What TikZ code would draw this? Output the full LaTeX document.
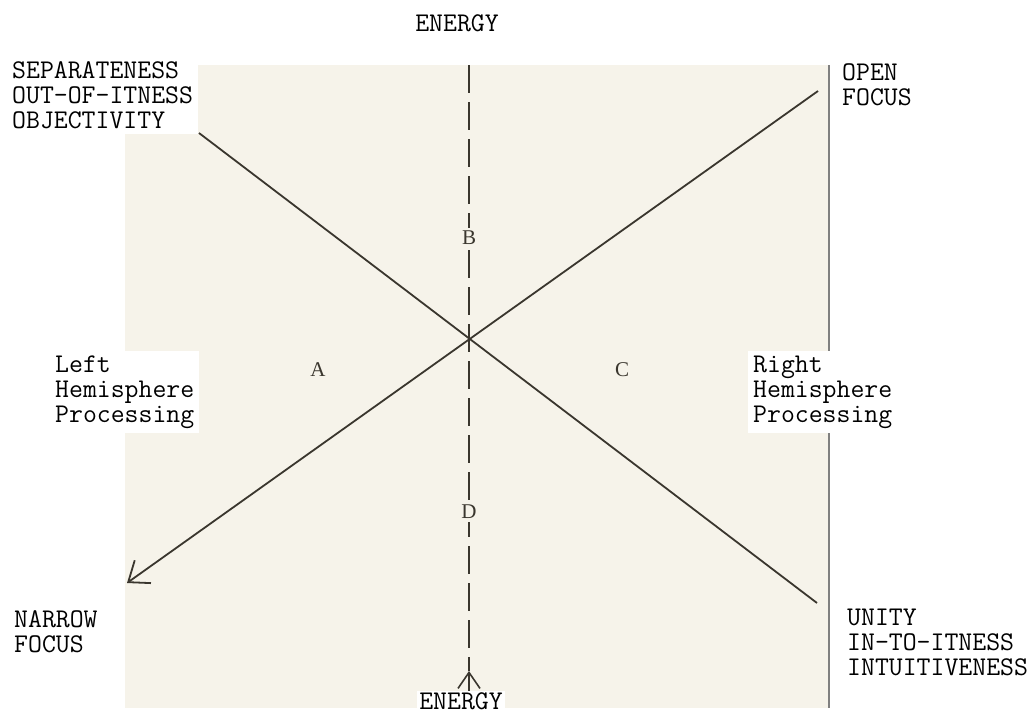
\documentclass[tikz,border=0pt]{standalone}
\usepackage{fontspec}
\setmainfont{Liberation Serif}
\usetikzlibrary{arrows.meta}
\definecolor{scan}{RGB}{246,243,234}
\definecolor{ink}{RGB}{58,54,46}

\begin{document}
\begin{tikzpicture}[x=1pt, y=-1pt,
  every node/.style={font=\ttfamily\fontsize{27}{25}\selectfont, inner sep=2pt},
  labelbox/.style={align=left, fill=white, anchor=west, inner sep=5pt},
  quadrant/.style={font=\rmfamily\fontsize{21}{22}\selectfont, text=ink, inner sep=3pt},
  axis/.style={ink, line width=1.8pt}]
\useasboundingbox (0,0) rectangle (1031,715);
\fill[white] (0,0) rectangle (1031,715);

% scanned page behind the cross
\fill[scan] (125,65) rectangle (829,708);
\draw[gray, line width=1.5pt] (829,65) -- (829,708);

\coordinate (ctr) at (469,340);
\coordinate (tl) at (199,133);
\coordinate (br) at (817,603);
\coordinate (tr) at (818,91);
\coordinate (bl) at (127,583);
\coordinate (top) at (469,65);
\coordinate (tip) at (469,671);
\coordinate (foot) at (469,692);

\draw[axis] (tl) -- (br);
\draw[axis, -{Straight Barb[length=18pt,width=28pt]}] (tr) -- (bl);
\draw[axis, line width=1.6pt, dash pattern=on 28pt off 9pt] (top) -- (tip);
\draw[axis, line width=1.6pt, -{Straight Barb[length=16pt,width=22pt]}] (foot) -- (tip);

\node[quadrant] (qA) at (318,370) {A};
\node[quadrant, fill=scan] (qB) at (469,238) {B};
\node[quadrant] (qC) at (622,370) {C};
\node[quadrant, fill=scan] (qD) at (469,512) {D};

\node (etop) at (457,23) {ENERGY};
\node[fill=white, inner ysep=1pt] (ebot) at (461,701) {ENERGY};

\node[labelbox] (sep) at (7,95) {SEPARATENESS\\OUT-OF-ITNESS\\OBJECTIVITY};
\node[anchor=west, align=left] (open) at (840,85) {OPEN\\FOCUS};
\node[labelbox] (lhp) at (50,392) {Left\\Hemisphere\\Processing};
\node[labelbox] (rhp) at (748,392) {Right\\Hemisphere\\Processing};
\node[anchor=west, align=left] (narrow) at (12,632) {NARROW\\FOCUS};
\node[anchor=west, align=left] (unity) at (845,642) {UNITY\\IN-TO-ITNESS\\INTUITIVENESS};
\end{tikzpicture}
\end{document}
